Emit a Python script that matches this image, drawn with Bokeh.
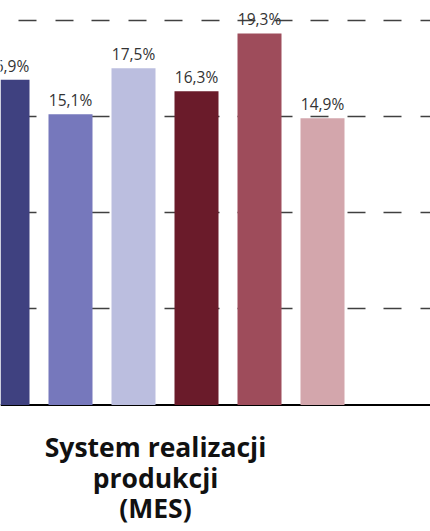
from bokeh.plotting import figure
from bokeh.models import ColumnDataSource, Range1d, Grid, FixedTicker, Span
from bokeh.core.properties import value
from bokeh.embed import file_html
from bokeh.resources import INLINE

# ---- data ----
category_lines = ["System realizacji", "produkcji", "(MES)"]
series_index = [0, 1, 2, 3, 4, 5]
values = [16.9, 15.1, 17.5, 16.3, 19.3, 14.9]
colors = ["#3F4180", "#7678BC", "#BBBEDF", "#6A1B2A", "#9E4C5B", "#D3A6AC"]
grid_ticks = [5, 10, 15, 20]

labels = [f"{v:.1f}%".replace(".", ",") for v in values]

# ---- layout ----
W, H = 430, 531
pitch = 63.0          # px between bar centres
first_center = 7.0    # px of first bar centre (chart is cropped on the left)
px_per_unit = 19.25
zero_px = 404.5

x0 = -first_center / pitch
x_range = Range1d(x0, x0 + W / pitch)
y_range = Range1d(-(H - zero_px) / px_per_unit, zero_px / px_per_unit)

p = figure(width=W, height=H, output_backend="svg", toolbar_location=None,
           x_range=x_range, y_range=y_range, min_border=0,
           x_axis_location=None, y_axis_location=None,
           outline_line_color=None, background_fill_color="white",
           border_fill_color="white")
p.xgrid.visible = False
p.ygrid.visible = False

grid = Grid(dimension=1, ticker=FixedTicker(ticks=grid_ticks),
            grid_line_color="#404040", grid_line_width=1.4,
            grid_line_dash="18 18 18 19", grid_line_dash_offset=18)
p.add_layout(grid, "center")

base = Span(location=0, dimension="width", line_color="black",
            line_width=2, level="underlay")
p.add_layout(base)

src = ColumnDataSource(dict(x=series_index, top=values, color=colors, label=labels))
p.vbar(x="x", top="top", bottom=0, width=44 / pitch, fill_color="color",
       line_color=None, source=src)
p.text(x="x", y="top", text="label", source=src, text_align="center",
       text_baseline="alphabetic", y_offset=-14, text_font=value("Open Sans"),
       text_font_size="15.5px", text_color="#333333")

title_x = (155 - first_center) / pitch
tsrc = ColumnDataSource(dict(x=[title_x] * len(category_lines),
                             y=[0] * len(category_lines),
                             t=category_lines,
                             off=[42 + 30.5 * i for i in range(len(category_lines))]))
p.text(x="x", y="y", text="t", y_offset="off", source=tsrc, text_align="center",
       text_baseline="alphabetic", text_font=value("Open Sans"),
       text_font_style="bold", text_font_size="26.5px", text_color="#111111")

open("out.html", "w").write(file_html(p, INLINE))
